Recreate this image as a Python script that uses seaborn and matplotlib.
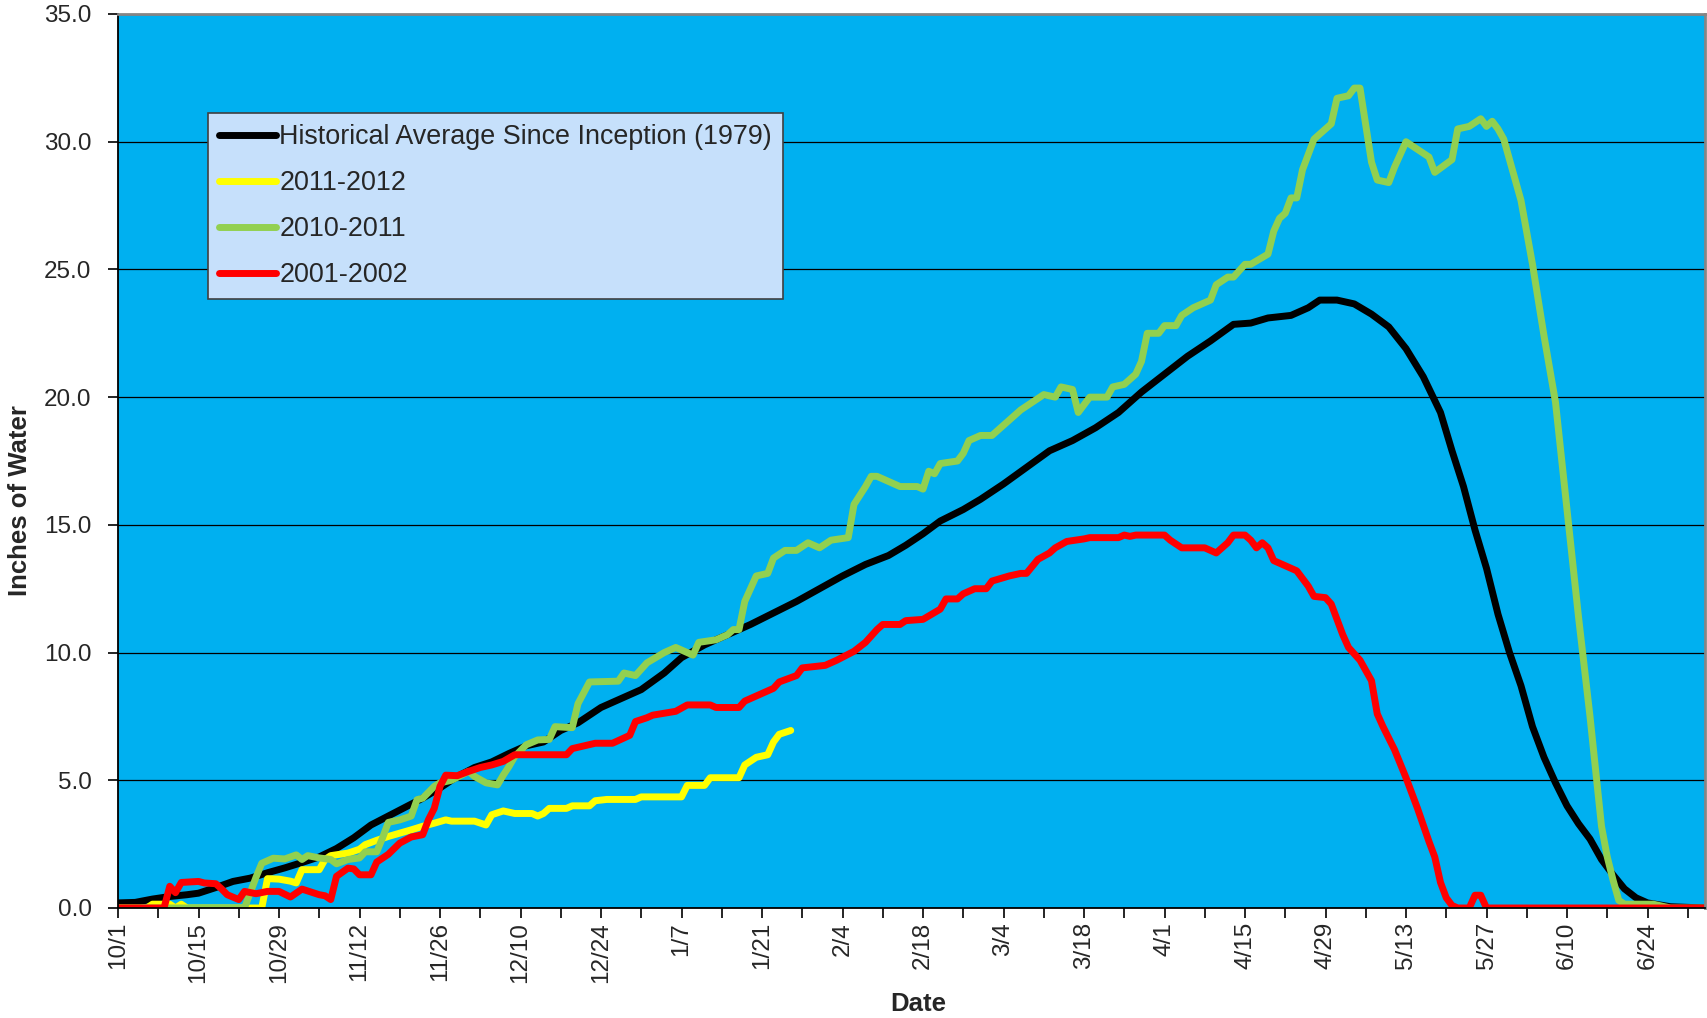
import numpy as np
import pandas as pd
import matplotlib
matplotlib.use("Agg")
import matplotlib.pyplot as plt
import seaborn as sns
from matplotlib.lines import Line2D

# ---------------- data (day index: 0 = Oct 1) ----------------
hist_days = [0, 3, 6, 9, 12, 14, 17, 20, 23, 26, 29, 32, 35, 38, 41, 44, 47, 50, 53, 56,
             59, 62, 65, 68, 71, 74, 77, 80, 84, 88, 91, 95, 98, 102, 106, 110, 114, 118,
             122, 126, 130, 134, 137, 140, 143, 147, 150, 154, 158, 162, 166, 170, 174,
             178, 182, 186, 190, 194, 197, 200, 204, 207, 209, 212, 215, 218, 221, 224,
             227, 230, 232, 234, 236, 238, 240, 242, 244, 246, 248, 250, 252, 254, 256,
             258, 260, 262, 264, 266, 270, 276]
hist_vals = [0.2, 0.22, 0.35, 0.45, 0.52, 0.58, 0.8, 1.04, 1.17, 1.38, 1.57, 1.78, 2.0,
             2.33, 2.75, 3.25, 3.6, 3.95, 4.3, 4.7, 5.15, 5.5, 5.72, 6.05, 6.35, 6.5, 6.95,
             7.25, 7.85, 8.25, 8.55, 9.2, 9.8, 10.3, 10.7, 11.1, 11.55, 12.0, 12.5, 13.0,
             13.45, 13.8, 14.2, 14.65, 15.15, 15.6, 16.0, 16.6, 17.25, 17.9, 18.3, 18.8,
             19.4, 20.2, 20.9, 21.6, 22.2, 22.85, 22.9, 23.1, 23.2, 23.5, 23.8, 23.8, 23.65,
             23.25, 22.75, 21.9, 20.8, 19.4, 17.9, 16.5, 14.8, 13.3, 11.5, 10.0, 8.7, 7.1,
             5.9, 4.9, 4.0, 3.3, 2.7, 1.9, 1.3, 0.75, 0.4, 0.2, 0.05, 0.0]

y1112_days = [0, 5, 6, 9, 10, 11, 12, 25, 26, 28, 30, 31, 32, 35, 36, 37, 40, 42, 43, 45,
              47, 49, 51, 53, 55, 57, 58, 62, 64, 65, 67, 69, 72, 73, 74, 75, 78, 79, 82,
              83, 85, 90, 91, 98, 99, 102, 103, 108, 109, 111, 113, 114, 115, 117]
y1112_vals = [0.0, 0.0, 0.15, 0.15, 0.0, 0.15, 0.0, 0.0, 1.15, 1.13, 1.05, 0.98, 1.5, 1.5,
              1.9, 2.05, 2.15, 2.3, 2.48, 2.65, 2.8, 2.93, 3.06, 3.2, 3.32, 3.45, 3.4, 3.4,
              3.25, 3.65, 3.8, 3.7, 3.7, 3.6, 3.7, 3.9, 3.9, 4.0, 4.0, 4.2, 4.25, 4.25, 4.35,
              4.35, 4.8, 4.8, 5.1, 5.1, 5.6, 5.9, 6.0, 6.5, 6.8, 6.95]

y1011_days = [0, 22, 23, 24, 25, 27, 29, 31, 32, 33, 35, 37, 38, 40, 42, 43, 45, 46, 47,
              49, 51, 52, 53, 55, 56, 58, 61, 62, 64, 66, 67, 68, 69, 71, 73, 75, 76, 79,
              80, 82, 87, 88, 90, 92, 95, 97, 100, 101, 104, 106, 107, 108, 109, 111, 113,
              114, 116, 118, 120, 122, 124, 127, 128, 130, 131, 132, 136, 139, 140, 141,
              142, 143, 146, 147, 148, 150, 152, 155, 157, 159, 161, 163, 164, 166, 167,
              169, 172, 173, 175, 177, 178, 179, 181, 182, 184, 185, 187, 190, 191, 193,
              194, 196, 197, 200, 201, 202, 203, 204, 205, 206, 208, 211, 212, 214, 215,
              216, 218, 219, 221, 222, 224, 226, 228, 229, 232, 233, 235, 237, 238, 239,
              240, 241, 243, 244, 246, 247, 248, 250, 252, 254, 256, 258, 259, 260, 261,
              262, 267, 270, 276]
y1011_vals = [0.0, 0.0, 0.6, 1.2, 1.75, 1.95, 1.92, 2.08, 1.9, 2.05, 1.96, 1.9, 1.73, 1.9,
              1.96, 2.2, 2.2, 2.74, 3.35, 3.45, 3.6, 4.24, 4.3, 4.76, 4.9, 5.0, 5.35, 5.15,
              4.9, 4.82, 5.2, 5.54, 5.93, 6.39, 6.58, 6.6, 7.1, 7.06, 8.0, 8.85, 8.88, 9.2,
              9.1, 9.6, 10.0, 10.2, 9.9, 10.4, 10.5, 10.7, 10.9, 10.9, 12.0, 13.0, 13.1,
              13.7, 14.0, 14.0, 14.3, 14.1, 14.4, 14.5, 15.8, 16.5, 16.9, 16.9, 16.5, 16.5,
              16.4, 17.1, 17.0, 17.4, 17.5, 17.8, 18.3, 18.5, 18.5, 19.1, 19.5, 19.8, 20.1,
              20.0, 20.4, 20.3, 19.4, 20.0, 20.0, 20.4, 20.5, 20.9, 21.4, 22.5, 22.5, 22.8,
              22.8, 23.2, 23.5, 23.8, 24.4, 24.7, 24.7, 25.2, 25.2, 25.6, 26.5, 27.0, 27.2,
              27.8, 27.8, 28.9, 30.1, 30.7, 31.7, 31.8, 32.1, 32.1, 29.2, 28.5, 28.4, 29.0,
              30.0, 29.7, 29.4, 28.8, 29.3, 30.5, 30.6, 30.9, 30.6, 30.8, 30.5, 30.1, 28.5,
              27.7, 25.2, 23.8, 22.4, 19.8, 15.6, 11.4, 7.5, 3.2, 2.0, 1.1, 0.3, 0.15, 0.15,
              0.0, 0.0]

y0102_days = [0, 8, 9, 10, 11, 14, 15, 17, 18, 19, 21, 22, 24, 26, 28, 30, 32, 35, 36, 37,
              38, 40, 41, 42, 44, 45, 47, 49, 51, 53, 54, 55, 56, 57, 59, 61, 63, 65, 67,
              69, 78, 79, 82, 83, 86, 89, 90, 92, 93, 97, 99, 103, 104, 108, 109, 111, 114,
              115, 118, 119, 123, 125, 128, 130, 132, 133, 136, 137, 140, 143, 144, 146,
              147, 149, 151, 152, 155, 157, 158, 160, 162, 163, 165, 168, 169, 174, 175,
              176, 177, 182, 183, 185, 189, 190, 191, 193, 194, 196, 197, 198, 199, 200,
              201, 203, 205, 207, 208, 210, 211, 212, 213, 214, 216, 218, 219, 220, 222,
              224, 226, 228, 229, 230, 231, 232, 233, 235, 236, 237, 238, 276]
y0102_vals = [0.0, 0.0, 0.85, 0.6, 1.0, 1.04, 0.98, 0.95, 0.75, 0.52, 0.33, 0.65, 0.56,
              0.65, 0.65, 0.43, 0.74, 0.52, 0.48, 0.33, 1.24, 1.56, 1.53, 1.3, 1.3, 1.8,
              2.1, 2.54, 2.78, 2.87, 3.46, 3.9, 4.76, 5.2, 5.18, 5.35, 5.5, 5.6, 5.74, 6.0,
              6.0, 6.24, 6.4, 6.45, 6.45, 6.76, 7.3, 7.45, 7.55, 7.7, 7.95, 7.95, 7.85,
              7.85, 8.1, 8.3, 8.6, 8.85, 9.1, 9.4, 9.5, 9.7, 10.05, 10.4, 10.9, 11.1, 11.1,
              11.25, 11.3, 11.7, 12.1, 12.1, 12.3, 12.5, 12.5, 12.8, 13.0, 13.1, 13.1,
              13.65, 13.9, 14.1, 14.35, 14.45, 14.5, 14.5, 14.6, 14.55, 14.6, 14.6, 14.4,
              14.1, 14.1, 14.0, 13.9, 14.3, 14.6, 14.6, 14.4, 14.1, 14.3, 14.1, 13.6, 13.4,
              13.2, 12.6, 12.2, 12.15, 11.9, 11.3, 10.7, 10.2, 9.7, 8.9, 7.6, 7.1, 6.2, 5.1,
              3.9, 2.6, 2.0, 1.0, 0.4, 0.1, 0.0, 0.0, 0.5, 0.5, 0.0, 0.0]

series_names = ["Historical Average Since Inception (1979)", "2011-2012", "2010-2011", "2001-2002"]
series_colors = ["#000000", "#FFFF00", "#92D050", "#FF0000"]

tick_days = [0, 14, 28, 42, 56, 70, 84, 98, 112, 126, 140, 154, 168, 182, 196, 210, 224, 238, 252, 266]
tick_labels = ["10/1", "10/15", "10/29", "11/12", "11/26", "12/10", "12/24", "1/7", "1/21", "2/4",
               "2/18", "3/4", "3/18", "4/1", "4/15", "4/29", "5/13", "5/27", "6/10", "6/24"]
minor_days = [7, 21, 35, 49, 63, 77, 91, 105, 119, 133, 147, 161, 175, 189, 203, 217, 231, 245, 259, 273]
y_ticks = [0, 5, 10, 15, 20, 25, 30, 35]

# ---------------- build long frame ----------------
frames = []
for name, d, v in zip(series_names,
                      [hist_days, y1112_days, y1011_days, y0102_days],
                      [hist_vals, y1112_vals, y1011_vals, y0102_vals]):
    frames.append(pd.DataFrame({"day": d, "inches": v, "series": name}))
df = pd.concat(frames, ignore_index=True)

sns.set_style("white")
plt.rcParams["font.family"] = ["Liberation Sans", "DejaVu Sans"]

W, H = 1707, 1018
fig = plt.figure(figsize=(W / 100, H / 100), dpi=100)
left, right, top, bottom = 118, 1705, 14, 908
ax = fig.add_axes([left / W, 1 - bottom / H, (right - left) / W, (bottom - top) / H])
ax.set_facecolor("#00B0F0")

LW = 5.0
sns.lineplot(data=df, x="day", y="inches", hue="series", hue_order=series_names,
             palette=series_colors, estimator=None, sort=False, linewidth=LW,
             solid_capstyle="round", solid_joinstyle="round", ax=ax, legend=False)

ax.set_xlim(0, 276)
ax.set_ylim(0, 35)

ax.set_yticks(y_ticks)
ax.set_yticklabels([f"{t:.1f}" for t in y_ticks], fontsize=17.5)
ax.set_xticks(tick_days)
ax.set_xticklabels(tick_labels, rotation=90, fontsize=17.5)
ax.set_xticks(minor_days, minor=True)

ax.tick_params(axis="x", which="both", direction="out", length=7, width=1.2,
               color="black", pad=3, bottom=True)
ax.tick_params(axis="y", which="major", direction="out", length=7, width=1.2,
               color="black", pad=12, left=True)

ax.yaxis.grid(True, color="black", linewidth=0.9)
ax.xaxis.grid(False)
ax.set_axisbelow(True)

for s in ["top", "right"]:
    ax.spines[s].set_color("#858585")
    ax.spines[s].set_linewidth(2.0)
for s in ["left", "bottom"]:
    ax.spines[s].set_color("black")
    ax.spines[s].set_linewidth(1.3)

ax.set_ylabel("Inches of Water", fontsize=18.5, fontweight="bold")
ax.yaxis.label.set_va("center")
ax.yaxis.set_label_coords((19.6 - left) / (right - left), (bottom - 501) / (bottom - top))
ax.set_xlabel("Date", fontsize=18.5, fontweight="bold")
ax.xaxis.label.set_va("center")
ax.xaxis.set_label_coords((918 - left) / (right - left), (bottom - 1004) / (bottom - top))

handles = [Line2D([0], [0], color=c, lw=LW, solid_capstyle="round") for c in series_colors]
leg = ax.legend(handles, series_names, loc="upper left",
                bbox_to_anchor=((208 - left) / (right - left), (bottom - 113) / (bottom - top)),
                borderaxespad=0, frameon=True, fancybox=False, facecolor="#C6E0FB",
                edgecolor="#404040", framealpha=1, fontsize=19.4, handlelength=2.1,
                handletextpad=0.12, labelspacing=0.74, borderpad=0.42)
leg.get_frame().set_linewidth(1.2)

fig.savefig("out.png", dpi=100)
